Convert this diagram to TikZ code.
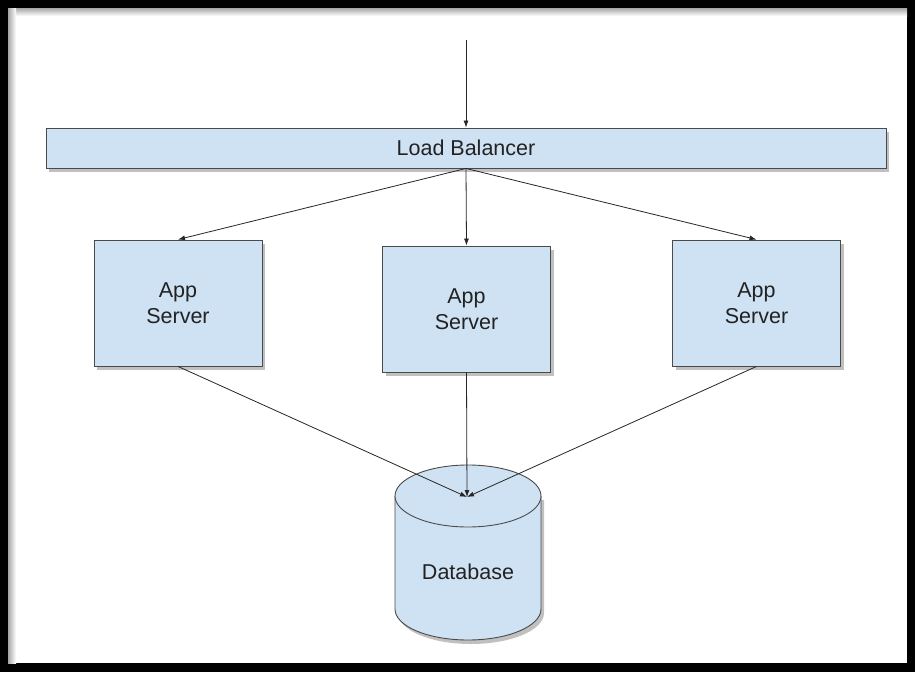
\documentclass[tikz,border=0pt]{standalone}
\usepackage{fontspec}
\setmainfont{Liberation Sans}
\usetikzlibrary{arrows.meta,shadows}

\definecolor{boxfill}{HTML}{CFE2F3}
\definecolor{boxline}{HTML}{4A4A4A}
\definecolor{txt}{HTML}{222222}

\tikzset{
    bigfont/.style={font=\fontsize{21.5}{26}\selectfont, text=txt},
    boxshadow/.style={drop shadow={shadow xshift=3pt, shadow yshift=-4pt, opacity=0.35, fill=black!70}},
    bar/.style={rectangle, draw=boxline, fill=boxfill, line width=0.9pt, bigfont,
        minimum width=840pt, minimum height=40pt, boxshadow},
    server/.style={rectangle, draw=boxline, fill=boxfill, line width=0.9pt, bigfont,
        align=center, minimum width=168pt, minimum height=126pt, boxshadow},
    link/.style={draw=black!85, line width=0.8pt, -{Latex[length=7pt,width=5pt]}}
}

\begin{document}
\begin{tikzpicture}[x=1pt, y=-1pt]
    \useasboundingbox (0,0) rectangle (915,672);

    % frame
    \fill[black] (0,0) rectangle (915,672);
    \fill[white] (8,8) rectangle (907,663);
    \shade[top color=black!35, bottom color=white] (8,8) rectangle (907,16);
    \shade[left color=black!35, right color=white] (8,8) rectangle (16,663);

    \node[bar] (lb) at (466,148) {Load Balancer};

    \node[server] (s1) at (178,303) {App\\Server};
    \node[server] (s2) at (466.5,309) {App\\Server};
    \node[server] (s3) at (756.5,303) {App\\Server};

    % database
    \fill[black!70, opacity=0.35] (398,500) -- (398,613)
        arc[start angle=180, end angle=0, x radius=73, y radius=31] -- (544,500) -- cycle;
    \draw[boxline, fill=boxfill, line width=0.9pt] (395,496) -- (395,609)
        arc[start angle=180, end angle=0, x radius=73, y radius=31] -- (541,496);
    \draw[boxline, fill=boxfill, line width=0.9pt] (468,496) ellipse[x radius=73, y radius=31];
    \node[bigfont] (db) at (468,572) {Database};
    \coordinate (dbtop) at (467,497);

    \coordinate (in) at (466,40);

    \draw[link] (in) -- (lb.north);
    \draw[link] (lb.south) -- (s1.north);
    \draw[link] (lb.south) -- (s2.north);
    \draw[link] (lb.south) -- (s3.north);

    \draw[link] (s1.south) -- (dbtop);
    \draw[link] (s2.south) -- (dbtop);
    \draw[link] (s3.south) -- (dbtop);
\end{tikzpicture}
\end{document}
